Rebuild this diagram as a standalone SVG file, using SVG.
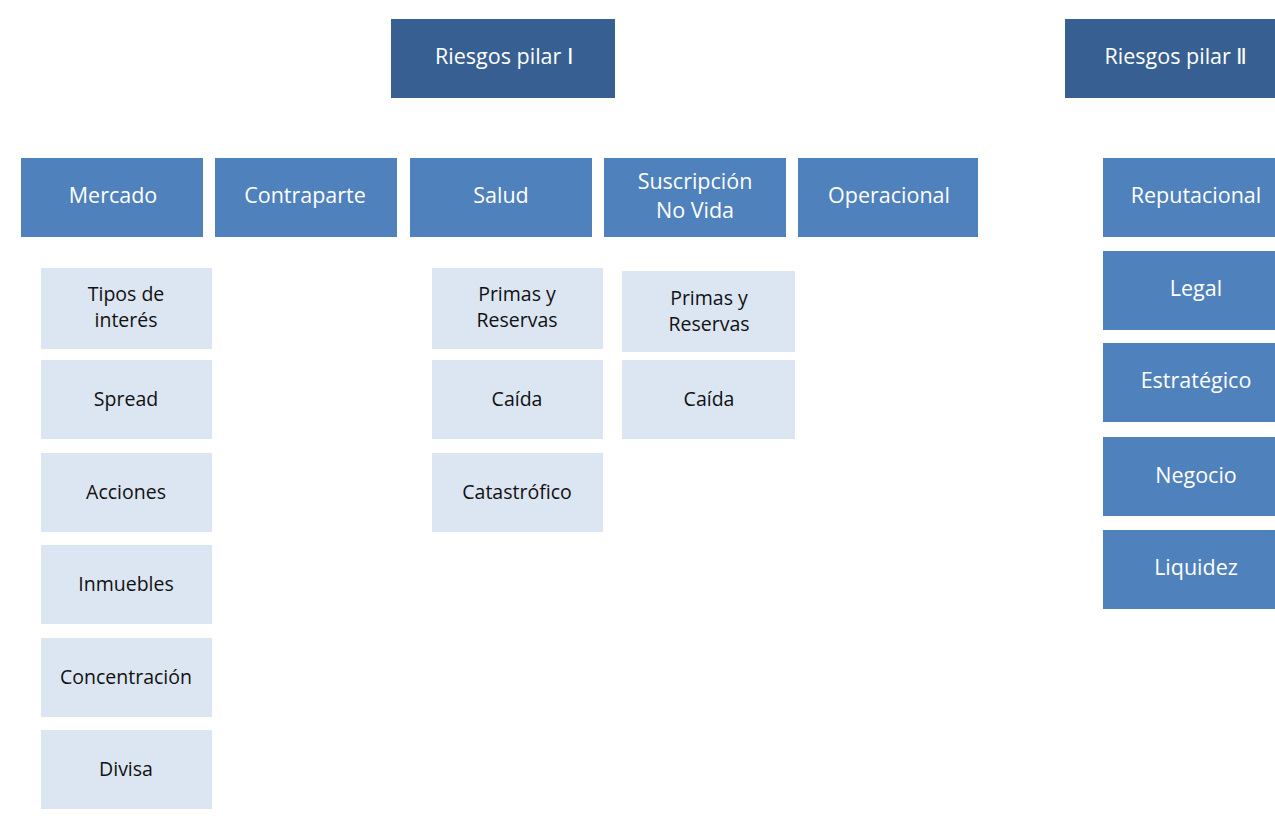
<svg xmlns="http://www.w3.org/2000/svg" width="1275" height="825" viewBox="0 0 1275 825">
<style>
.d{fill:#375F91}
.m{fill:#4F81BD}
.l{fill:#DCE6F2}
text{font-family:"Open Sans","Noto Sans","Liberation Sans",sans-serif;text-anchor:middle}
.tw{fill:#FFFFFF;font-size:21.5px}
.tb{fill:#111111;font-size:19.5px}
</style>
<rect width="1275" height="825" fill="#FFFFFF"/>
<g id="connectors"></g>
<g id="pilar1"><rect class="d" x="391" y="19" width="224" height="79"/><text class="tw" x="504" y="64">Riesgos pilar Ⅰ</text></g>
<g id="pilar2"><rect class="d" x="1065" y="19" width="224" height="79"/><text class="tw" x="1176" y="64">Riesgos pilar Ⅱ</text></g>
<g id="mercado"><rect class="m" x="21" y="158" width="182" height="79"/><text class="tw" x="113" y="203">Mercado</text></g>
<g id="contraparte"><rect class="m" x="215" y="158" width="182" height="79"/><text class="tw" x="305" y="203">Contraparte</text></g>
<g id="salud"><rect class="m" x="410" y="158" width="182" height="79"/><text class="tw" x="501" y="203">Salud</text></g>
<g id="suscripcion"><rect class="m" x="604" y="158" width="182" height="79"/><text class="tw" x="695" y="189">Suscripción</text><text class="tw" x="695" y="218">No Vida</text></g>
<g id="operacional"><rect class="m" x="798" y="158" width="180" height="79"/><text class="tw" x="889" y="203">Operacional</text></g>
<g id="reputacional"><rect class="m" x="1103" y="158" width="186" height="79"/><text class="tw" x="1196" y="203">Reputacional</text></g>
<g id="legal"><rect class="m" x="1103" y="251" width="186" height="79"/><text class="tw" x="1196" y="296">Legal</text></g>
<g id="estrategico"><rect class="m" x="1103" y="343" width="186" height="79"/><text class="tw" x="1196" y="388">Estratégico</text></g>
<g id="negocio"><rect class="m" x="1103" y="437" width="186" height="79"/><text class="tw" x="1196" y="483">Negocio</text></g>
<g id="liquidez"><rect class="m" x="1103" y="530" width="186" height="79"/><text class="tw" x="1196" y="575">Liquidez</text></g>
<g id="tipos"><rect class="l" x="41" y="268" width="171" height="81"/><text class="tb" x="126" y="301">Tipos de</text><text class="tb" x="126" y="327">interés</text></g>
<g id="spread"><rect class="l" x="41" y="360" width="171" height="79"/><text class="tb" x="126" y="406">Spread</text></g>
<g id="acciones"><rect class="l" x="41" y="453" width="171" height="79"/><text class="tb" x="126" y="499">Acciones</text></g>
<g id="inmuebles"><rect class="l" x="41" y="545" width="171" height="79"/><text class="tb" x="126" y="591">Inmuebles</text></g>
<g id="concentracion"><rect class="l" x="41" y="638" width="171" height="79"/><text class="tb" x="126" y="684">Concentración</text></g>
<g id="divisa"><rect class="l" x="41" y="730" width="171" height="79"/><text class="tb" x="126" y="776">Divisa</text></g>
<g id="primas-salud"><rect class="l" x="432" y="268" width="171" height="81"/><text class="tb" x="517" y="301">Primas y</text><text class="tb" x="517" y="327">Reservas</text></g>
<g id="caida-salud"><rect class="l" x="432" y="360" width="171" height="79"/><text class="tb" x="517" y="406">Caída</text></g>
<g id="catastrofico"><rect class="l" x="432" y="453" width="171" height="79"/><text class="tb" x="517" y="499">Catastrófico</text></g>
<g id="primas-nv"><rect class="l" x="622" y="271" width="173" height="81"/><text class="tb" x="709" y="305">Primas y</text><text class="tb" x="709" y="331">Reservas</text></g>
<g id="caida-nv"><rect class="l" x="622" y="360" width="173" height="79"/><text class="tb" x="709" y="406">Caída</text></g>
</svg>
